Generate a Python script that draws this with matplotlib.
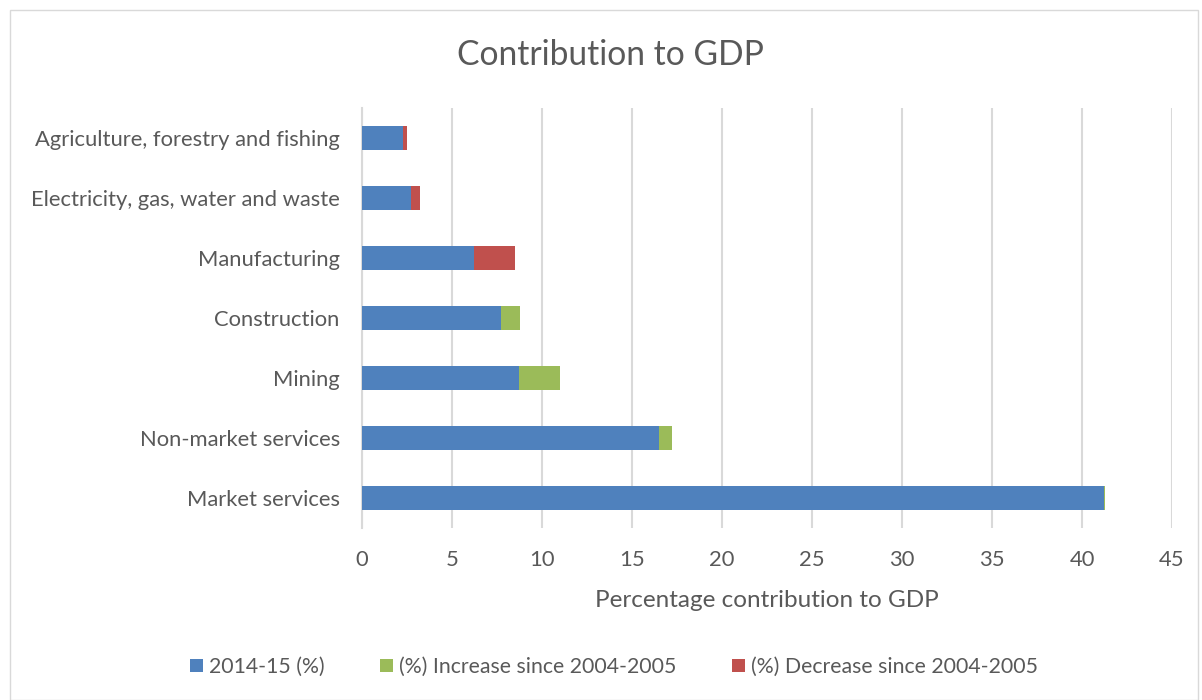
import matplotlib
matplotlib.use("Agg")
import matplotlib.pyplot as plt
from matplotlib.patches import Rectangle

categories = ["Market services", "Non-market services", "Mining", "Construction",
              "Manufacturing", "Electricity, gas, water and waste",
              "Agriculture, forestry and fishing"]
value_2014_15 = [41.2, 16.5, 8.7, 7.7, 6.2, 2.7, 2.3]
increase = [0.1, 0.7, 2.3, 1.1, 0.0, 0.0, 0.0]
decrease = [0.0, 0.0, 0.0, 0.0, 2.3, 0.5, 0.2]
x_ticks = [0, 5, 10, 15, 20, 25, 30, 35, 40, 45]

plt.rcParams['font.family'] = ['Lato', 'DejaVu Sans']
text_color = "#595959"
blue, green, red = "#4f81bd", "#9bbb59", "#c0504d"

fig = plt.figure(figsize=(12.02, 7.0), dpi=100)
ax = fig.add_axes([362/1202, 1-528/700, (1172-362)/1202, 420/700])

y = list(range(len(categories)))
h = 0.4
ax.barh(y, value_2014_15, height=h, color=blue, label="2014-15 (%)", zorder=3)
left2 = value_2014_15
ax.barh(y, increase, left=left2, height=h, color=green,
        label="(%) Increase since 2004-2005", zorder=3)
left3 = [a + b for a, b in zip(value_2014_15, increase)]
ax.barh(y, decrease, left=left3, height=h, color=red,
        label="(%) Decrease since 2004-2005", zorder=3)

ax.set_xlim(0, 45)
ax.set_ylim(-0.5, len(categories) - 0.5)
ax.set_xticks(x_ticks)
ax.set_yticks(y)
ax.set_yticklabels(categories)
ax.tick_params(axis='both', length=0, labelsize=15.8, colors=text_color)
ax.tick_params(axis='x', pad=16)
ax.tick_params(axis='y', pad=16)
ax.grid(axis='x', color="#d9d9d9", linewidth=1.5, zorder=0)
for s in ["top", "right", "bottom"]:
    ax.spines[s].set_visible(False)
ax.spines["left"].set_color("#d9d9d9")
ax.spines["left"].set_linewidth(1.5)

ax.set_xlabel("Percentage contribution to GDP", fontsize=17.5, color=text_color, labelpad=14)
fig.text(610/1202, 1-55/700, "Contribution to GDP", fontsize=24.2, color=text_color,
         ha="center", va="center")

handles, labels = ax.get_legend_handles_labels()
fig.legend(handles, labels, loc="center", bbox_to_anchor=(614/1202, 1-667/700),
           ncol=3, frameon=False, fontsize=15.3, handlelength=0.6, handleheight=0.6,
           columnspacing=2.6, handletextpad=0.3, labelcolor=text_color)

fig.patches.append(Rectangle((10/1202, 0), 1188/1202, 1-10/700, transform=fig.transFigure,
                             fill=False, edgecolor="#d9d9d9", linewidth=1))

fig.savefig("out.png", dpi=100)
